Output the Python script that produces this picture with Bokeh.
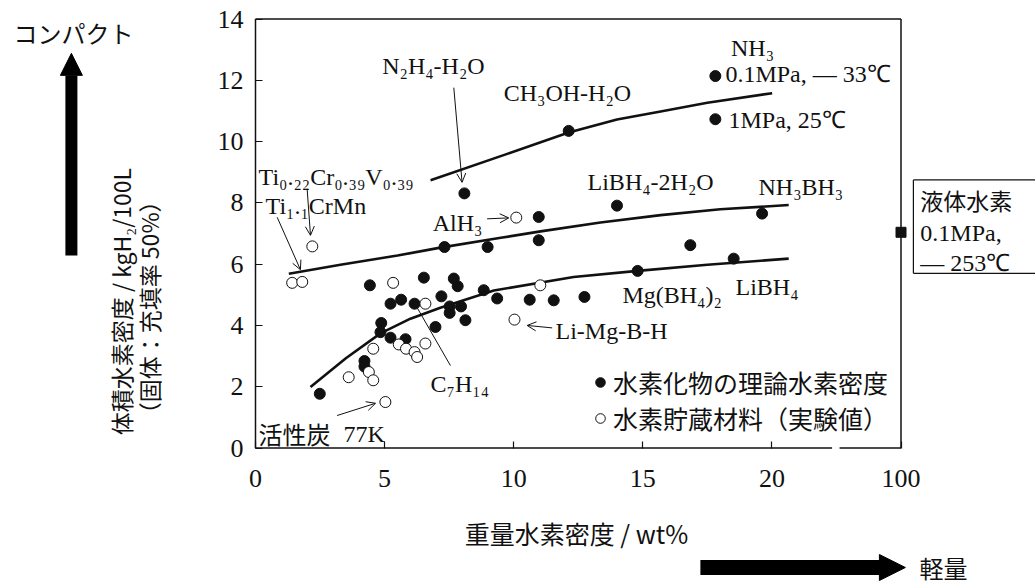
import math
from bokeh.plotting import figure
from bokeh.models import (Range1d, FixedTicker, Label, Arrow, NormalHead, OpenHead,
                          Legend, LegendItem, ColumnDataSource, LinearAxis)
from bokeh.embed import file_html
from bokeh.resources import INLINE

# ---------------- data ----------------
# theoretical hydrogen density of hydrides (filled circles): wt%, kgH2/100L
hydride_wt = [2.49, 4.43, 5.23, 5.64, 4.87, 4.84, 5.23, 4.22, 4.22, 5.81,
              6.16, 6.52, 7.20, 6.97, 7.68, 7.83, 7.52, 7.52, 7.96, 8.13,
              8.84, 9.36, 10.62, 11.55, 12.74, 14.80, 7.32, 8.99, 10.97, 10.97,
              12.13, 8.09, 14.00, 17.81, 17.81, 19.62, 16.84, 18.52]
hydride_vol = [1.77, 5.31, 4.71, 4.84, 4.08, 3.78, 3.60, 2.84, 2.66, 3.55,
               4.71, 5.56, 4.95, 3.95, 5.53, 5.28, 4.62, 4.41, 4.62, 4.17,
               5.15, 4.88, 4.84, 4.82, 4.93, 5.78, 6.56, 6.56, 6.78, 7.54,
               10.35, 8.31, 7.91, 12.14, 10.73, 7.65, 6.62, 6.18]

# hydrogen storage materials, experimental (open circles)
material_wt = [1.42, 1.81, 2.20, 5.33, 6.58, 4.56, 3.61, 4.39, 4.56, 5.55,
               5.83, 6.16, 6.26, 6.58, 5.03, 10.03, 11.03, 10.10]
material_vol = [5.39, 5.42, 6.58, 5.39, 4.71, 3.24, 2.31, 2.48, 2.21, 3.38,
                3.24, 3.13, 2.97, 3.41, 1.50, 4.19, 5.31, 7.52]

# liquid hydrogen (0.1 MPa, -253 C)
liquid_wt = [100]
liquid_vol = [7.04]

# hand-drawn guide curves, read at several positions along each line
upper_wt = [6.78, 9.75, 12.13, 14.0, 15.69, 17.5, 20.01]
upper_vol = [8.74, 9.60, 10.30, 10.72, 10.98, 11.27, 11.58]
middle_wt = [1.29, 3.29, 5.5, 7.16, 9.5, 11.04, 13.36, 15.69, 18.0, 20.65]
middle_vol = [5.69, 5.98, 6.28, 6.54, 6.86, 7.07, 7.36, 7.60, 7.79, 7.93]
lower_wt = [2.13, 3.5, 4.84, 6.0, 7.16, 9.23, 12.32, 14.8, 17.5, 20.65]
lower_vol = [1.99, 2.93, 3.74, 4.22, 4.58, 5.14, 5.58, 5.78, 5.98, 6.18]

x_ticks = [0, 5, 10, 15, 20, 100]
y_ticks = [0, 2, 4, 6, 8, 10, 12, 14]

# ---------------- broken x axis: 0..22.5 linear, then a jump to 100 ----------------
BREAK_LO, BREAK_HI, AXIS_END, Y_TOP = 22.33, 22.62, 25.0, 14


def xmap(v):
    if v <= BREAK_HI:
        return v
    return round(BREAK_HI + (v - BREAK_HI) * (AXIS_END - BREAK_HI) / (100 - BREAK_HI), 6)


SERIF = "Liberation Serif"
CJK = "Noto Sans CJK JP"
INK = "#111111"

# the frame fills the whole page; the axes sit at fixed data locations inside it
p = figure(width=1035, height=586, output_backend="svg", toolbar_location=None,
           x_range=Range1d(-9.876, 30.209), y_range=Range1d(-4.520, 14.605),
           x_axis_location=None, y_axis_location=None, min_border=0)
p.outline_line_color = None
p.grid.visible = False
p.background_fill_color = "white"
p.border_fill_color = "white"

tick_pos = [xmap(t) for t in x_ticks]
xaxis = LinearAxis(fixed_location=0, ticker=FixedTicker(ticks=tick_pos), bounds=(0, AXIS_END),
                   major_label_overrides={tp: str(t) for tp, t in zip(tick_pos, x_ticks)})
yaxis = LinearAxis(fixed_location=0, ticker=FixedTicker(ticks=y_ticks), bounds=(0, Y_TOP))
for ax in (xaxis, yaxis):
    ax.axis_line_color = None
    ax.major_tick_in = 7
    ax.major_tick_out = 0
    ax.minor_tick_line_color = None
    ax.major_tick_line_color = INK
    ax.major_tick_line_width = 1.2
    ax.major_label_text_font = SERIF
    ax.major_label_text_font_size = "26px"
    ax.major_label_text_color = INK
xaxis.major_label_standoff = 22
yaxis.major_label_standoff = 12
p.add_layout(xaxis, "below")
p.add_layout(yaxis, "left")

# frame borders (with the axis break at the bottom)
p.segment(x0=[0, 0, AXIS_END, 0, BREAK_HI], y0=[0, Y_TOP, 0, 0, 0],
          x1=[0, AXIS_END, AXIS_END, BREAK_LO, AXIS_END], y1=[Y_TOP, Y_TOP, Y_TOP, 0, 0],
          line_color=INK, line_width=1.5)

# guide curves
for cx, cy in [(upper_wt, upper_vol), (middle_wt, middle_vol), (lower_wt, lower_vol)]:
    p.line([xmap(v) for v in cx], cy, line_color=INK, line_width=2.6, line_join="round")

hyd_src = ColumnDataSource(dict(x=[xmap(v) for v in hydride_wt], y=hydride_vol))
mat_src = ColumnDataSource(dict(x=[xmap(v) for v in material_wt], y=material_vol))
r_hyd = p.scatter("x", "y", source=hyd_src, size=11, fill_color=INK, line_color=INK)
r_mat = p.scatter("x", "y", source=mat_src, size=11, fill_color="white", line_color=INK,
                  line_width=1)
p.scatter([xmap(v) for v in liquid_wt], liquid_vol, marker="square", size=10,
          fill_color=INK, line_color=INK)

legend = Legend(items=[LegendItem(label="水素化物の理論水素密度", renderers=[r_hyd]),
                       LegendItem(label="水素貯蔵材料（実験値）", renderers=[r_mat])],
                location=(588, 150), border_line_color=None, background_fill_alpha=0,
                padding=0, margin=0, spacing=-6, glyph_width=24, glyph_height=24,
                label_standoff=1, label_height=28, label_text_font=CJK,
                label_text_font_size="25px", label_text_color=INK)
p.add_layout(legend)

# ---------------- annotations ----------------
serif_labels = [
    ("N₂H₄-H₂O", 6.89, 12.48, "center"),
    ("CH₃OH-H₂O", 12.08, 11.60, "center"),
    ("NH₃", 19.25, 13.04, "center"),
    ("0.1MPa, — 33℃", 18.20, 12.19, "left"),
    ("1MPa, 25℃", 18.32, 10.69, "left"),
    ("Ti₀.₂₂Cr₀.₃₉V₀.₃₉", 0.12, 8.86, "left"),
    ("Ti₁.₁CrMn", 0.39, 7.91, "left"),
    ("LiBH₄-2H₂O", 12.86, 8.67, "left"),
    ("NH₃BH₃", 19.48, 8.53, "left"),
    ("AlH₃", 6.86, 7.33, "left"),
    ("Mg(BH₄)₂", 14.21, 4.98, "left"),
    ("LiBH₄", 18.59, 5.27, "left"),
    ("Li-Mg-B-H", 11.62, 3.83, "left"),
    ("C₇H₁₄", 6.78, 2.10, "left"),
    ("77K", 3.41, 0.47, "left"),
    ("0.1MPa,", 25.75, 7.03, "left"),
    ("— 253℃", 25.75, 6.05, "left"),
]
for text, lx, ly, align in serif_labels:
    p.add_layout(Label(x=lx, y=ly, text=text, text_font=SERIF, text_font_size="24px",
                       text_color=INK, text_align=align, text_baseline="middle"))

cjk_labels = [
    ("活性炭", 0.12, 0.47, "left", 0.0, "24px"),
    ("液体水素", 25.75, 8.08, "left", 0.0, "23px"),
    ("コンパクト", -7.05, 13.56, "center", 0.0, "24px"),
    ("軽量", 26.65, -3.90, "center", 0.0, "24px"),
    ("重量水素密度 / wt%", 12.43, -2.79, "center", 0.0, "25px"),
    ("体積水素密度 / kgH₂/100L", -5.19, 4.78, "center", math.pi / 2, "23px"),
    ("（固体：充填率 50%）", -4.14, 4.59, "center", math.pi / 2, "23px"),
]
for text, lx, ly, align, ang, fs in cjk_labels:
    p.add_layout(Label(x=lx, y=ly, text=text, text_font=CJK, text_font_size=fs,
                       text_color=INK, text_align=align, text_baseline="middle", angle=ang))

# liquid hydrogen box (its right side runs off the page)
p.segment(x0=[25.48, 25.48, 25.48], y0=[8.75, 5.70, 5.70],
          x1=[30.6, 30.6, 25.48], y1=[8.75, 5.70, 8.75], line_color=INK, line_width=1.2)

# pointer arrows
pointers = [
    (7.68, 11.76, 8.00, 8.67),   # N2H4-H2O
    (2.00, 8.46, 2.13, 6.94),    # Ti0.22Cr0.39V0.39
    (0.84, 7.53, 1.74, 5.82),    # Ti1.1CrMn
    (8.97, 7.48, 9.81, 7.51),    # AlH3
    (11.49, 3.92, 10.52, 4.00),  # Li-Mg-B-H
    (3.16, 1.06, 4.65, 1.46),    # activated carbon
]
for xs, ys, xe, ye in pointers:
    p.add_layout(Arrow(end=OpenHead(size=9, line_width=1, line_color=INK),
                       x_start=xs, y_start=ys, x_end=xe, y_end=ye,
                       line_color=INK, line_width=1))
p.segment(x0=[7.55], y0=[2.69], x1=[6.26], y1=[4.58], line_color=INK, line_width=1)

# big direction arrows: shafts as segments, heads as arrow heads only
p.segment(x0=[-7.13], y0=[6.28], x1=[-7.13], y1=[12.16], line_color="black", line_width=12)
p.segment(x0=[17.23], y0=[-3.90], x1=[24.24], y1=[-3.90], line_color="black", line_width=15)
p.add_layout(Arrow(end=NormalHead(size=22, fill_color="black", line_color="black"),
                   x_start=-7.13, y_start=12.0, x_end=-7.13, y_end=12.88, line_alpha=0))
p.add_layout(Arrow(end=NormalHead(size=26, fill_color="black", line_color="black"),
                   x_start=24.0, y_start=-3.90, x_end=25.17, y_end=-3.90, line_alpha=0))

open("out.html", "w").write(file_html(p, INLINE))
